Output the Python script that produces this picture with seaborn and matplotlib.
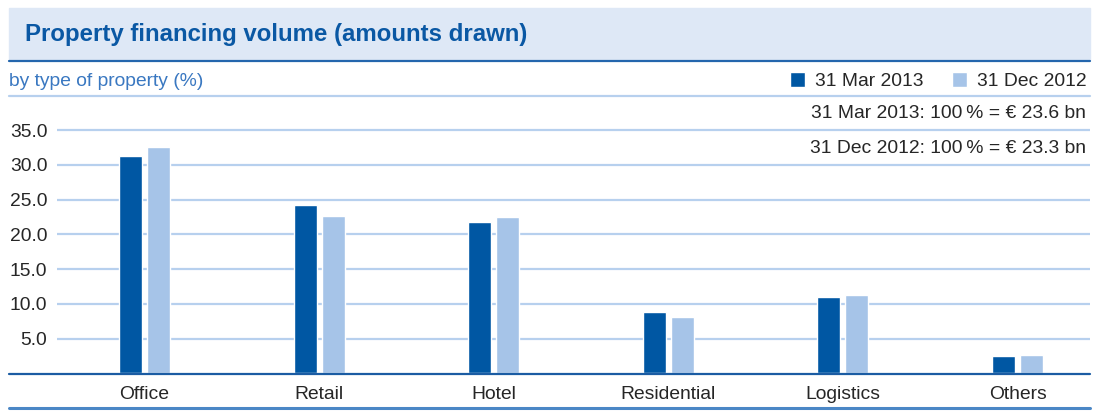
import numpy as np
import pandas as pd
import matplotlib
matplotlib.use("Agg")
import matplotlib.pyplot as plt
import seaborn as sns
from matplotlib.patches import Rectangle
from matplotlib.lines import Line2D

# =========================
# data
# =========================
property_types = ["Office", "Retail", "Hotel", "Residential", "Logistics", "Others"]
share_mar_2013 = [31.3, 24.2, 21.8, 8.8, 11.0, 2.5]
share_dec_2012 = [32.6, 22.6, 22.5, 8.1, 11.3, 2.6]
series_labels = ["31 Mar 2013", "31 Dec 2012"]
y_ticks = [5, 10, 15, 20, 25, 30, 35]
total_notes = ["31 Mar 2013: 100\u2009% = \u20ac 23.6 bn", "31 Dec 2012: 100\u2009% = \u20ac 23.3 bn"]

# =========================
# style
# =========================
dark_blue = "#0057a3"
light_blue = "#a6c4e8"
grid_blue = "#b7d0ee"
band_blue = "#dee8f6"
title_blue = "#0a58a4"
sub_blue = "#3a78c1"
text_col = "#262626"

sns.set_theme(style="white")
plt.rcParams["font.family"] = ["Liberation Sans", "DejaVu Sans"]
fs = 13.9

df = pd.DataFrame({
    "type": property_types * 2,
    "share": share_mar_2013 + share_dec_2012,
    "date": [series_labels[0]] * len(property_types) + [series_labels[1]] * len(property_types),
})

W, H = 1104, 418
fig = plt.figure(figsize=(W / 100, H / 100), dpi=100)

def fx(px):
    return px / W

def fy(py):
    return 1 - py / H

# header band + lines (figure level)
fig.patches.append(Rectangle((fx(9), fy(60)), fx(1090) - fx(9), fy(8) - fy(60),
                             transform=fig.transFigure, color=band_blue, zorder=0))
fig.lines.append(Line2D([fx(9), fx(1090)], [fy(61), fy(61)], transform=fig.transFigure,
                        color="#2466ad", lw=1.6))
fig.lines.append(Line2D([fx(9), fx(1090)], [fy(95.5), fy(95.5)], transform=fig.transFigure,
                        color=grid_blue, lw=1.6))
fig.lines.append(Line2D([fx(9), fx(1090)], [fy(373.5), fy(373.5)], transform=fig.transFigure,
                        color="#1b5ca3", lw=1.6, zorder=5))
fig.lines.append(Line2D([fx(9), fx(1090)], [fy(408), fy(408)], transform=fig.transFigure,
                        color="#4b87c6", lw=2.2))

fig.text(fx(25), fy(34), "Property financing volume (amounts drawn)", fontsize=17.3,
         fontweight="bold", color=title_blue, va="center", ha="left")
fig.text(fx(9), fy(82), "by type of property (%)", fontsize=fs, color=sub_blue,
         va="center", ha="left")
fig.text(fx(1086), fy(113), total_notes[0], fontsize=fs, color=text_col, va="center", ha="right")
fig.text(fx(1086), fy(148), total_notes[1], fontsize=fs, color=text_col, va="center", ha="right")

# =========================
# bars
# =========================
ax = fig.add_axes([fx(57), fy(373.3), fx(1090) - fx(57), fy(95.3) - fy(373.3)])
sns.barplot(data=df, x="type", y="share", hue="date", order=property_types,
            hue_order=series_labels, palette=[dark_blue, light_blue],
            width=0.321, gap=0.18, saturation=1, ax=ax, zorder=3)

handles, labels = ax.get_legend_handles_labels()
ax.get_legend().remove()
fig.legend(handles, labels, loc="center right", bbox_to_anchor=(fx(1087), fy(81)),
           ncol=2, frameon=False, fontsize=fs, handlelength=0.78, handleheight=0.78,
           handletextpad=0.55, columnspacing=1.45, borderaxespad=0, borderpad=0,
           labelcolor=text_col)

ax.set_ylim(0, 40)
ax.set_xlim(-0.501, 5.415)
ax.set_yticks(y_ticks)
ax.set_yticklabels([f"{v:.1f}" for v in y_ticks])
ax.yaxis.grid(True, color=grid_blue, lw=1.6, zorder=0)
ax.set_axisbelow(True)
ax.tick_params(axis="both", length=0, labelsize=fs, colors=text_col)
ax.tick_params(axis="y", pad=7)
ax.tick_params(axis="x", pad=9)
ax.set_xlabel("")
ax.set_ylabel("")
for s in ax.spines.values():
    s.set_visible(False)
ax.patch.set_alpha(0)

fig.savefig("out.png", dpi=100)
